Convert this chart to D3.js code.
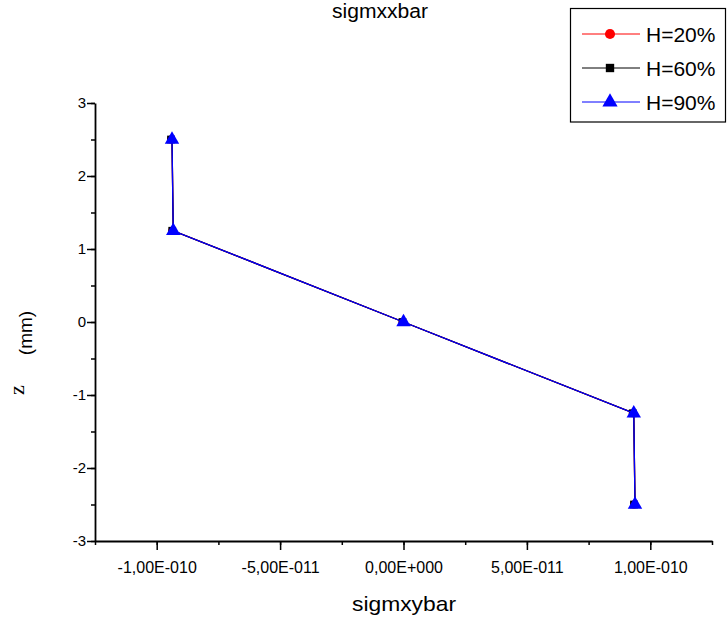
<!DOCTYPE html>
<html>
<head>
<meta charset="utf-8">
<script src="https://cdn.jsdelivr.net/npm/d3@7"></script>
<style>
  body { margin: 0; background: #fff; }
  svg { display: block; font-family: "Liberation Sans", Arial, sans-serif; }
</style>
</head>
<body>
<svg id="chart" width="727" height="623"></svg>
<script>
// ---- data ----
const seriesNames = ["H=20%", "H=60%", "H=90%"];
const seriesColors = ["#ff0000", "#000000", "#0000ff"];
const sigmxybarH20 = [-9.38e-11, -9.33e-11, 0, 9.33e-11, 9.38e-11];
const sigmxybarH60 = [-9.38e-11, -9.33e-11, 0, 9.33e-11, 9.38e-11];
const sigmxybarH90 = [-9.38e-11, -9.33e-11, 0, 9.33e-11, 9.38e-11];
const zValues = [2.5, 1.25, 0, -1.25, -2.5];
const xTickValues = [-1e-10, -5e-11, 0, 5e-11, 1e-10];
const xTickLabels = ["-1,00E-010", "-5,00E-011", "0,00E+000", "5,00E-011", "1,00E-010"];
const yTickValues = [-3, -2, -1, 0, 1, 2, 3];
const yTickLabels = ["-3", "-2", "-1", "0", "1", "2", "3"];

const svg = d3.select("#chart");
const mLeft = 95, mRight = 712, mTop = 103, mBottom = 541;

const x = d3.scaleLinear().domain([-1.25e-10, 1.25e-10]).range([mLeft, mRight]);
const y = d3.scaleLinear().domain([-3, 3]).range([mBottom, mTop]);

// axes
const xMinor = d3.range(-1.25e-10, 1.2500001e-10, 2.5e-11);
svg.append("g").attr("transform", `translate(0,${mBottom})`)
  .call(d3.axisBottom(x).tickValues(xMinor).tickSize(4).tickFormat(""))
  .call(g => g.select(".domain").remove())
  .call(g => g.selectAll("line").attr("stroke", "#000").attr("stroke-width", 1.5));
svg.append("g").attr("transform", `translate(0,${mBottom})`)
  .call(d3.axisBottom(x).tickValues(xTickValues).tickSize(9).tickSizeOuter(0)
    .tickFormat((d, i) => xTickLabels[i]))
  .call(g => g.select(".domain").attr("stroke", "#000").attr("stroke-width", 1.8))
  .call(g => g.selectAll("line").attr("stroke", "#000").attr("stroke-width", 1.5))
  .call(g => g.selectAll("text").attr("font-size", 16).attr("y", 21).attr("dy", "0.71em")
    .attr("font-family", "'Liberation Sans', Arial, sans-serif").attr("fill", "#000"));

const yMinor = d3.range(-3, 3.0001, 0.5);
svg.append("g").attr("transform", `translate(${mLeft},0)`)
  .call(d3.axisLeft(y).tickValues(yMinor).tickSize(4).tickFormat(""))
  .call(g => g.select(".domain").remove())
  .call(g => g.selectAll("line").attr("stroke", "#000").attr("stroke-width", 1.5));
svg.append("g").attr("transform", `translate(${mLeft},0)`)
  .call(d3.axisLeft(y).tickValues(yTickValues).tickSize(8).tickSizeOuter(0)
    .tickFormat((d, i) => yTickLabels[i]))
  .call(g => g.select(".domain").attr("stroke", "#000").attr("stroke-width", 1.8))
  .call(g => g.selectAll("line").attr("stroke", "#000").attr("stroke-width", 1.5))
  .call(g => g.selectAll("text").attr("font-size", 15).attr("x", -9)
    .attr("font-family", "'Liberation Sans', Arial, sans-serif").attr("fill", "#000"));

// series
const allX = [sigmxybarH20, sigmxybarH60, sigmxybarH90];
const line = d3.line().x(d => x(d[0])).y(d => y(d[1]));
allX.forEach((xs, si) => {
  const pts = xs.map((v, i) => [v, zValues[i]]);
  const g = svg.append("g");
  g.append("path").datum(pts).attr("d", line).attr("fill", "none")
    .attr("stroke", seriesColors[si]).attr("stroke-width", 1.3);
  const sym = [d3.symbolCircle, d3.symbolSquare, d3.symbolTriangle][si];
  const size = [50, 60, 90][si];
  g.selectAll("path.m").data(pts).join("path").attr("class", "m")
    .attr("transform", d => `translate(${x(d[0]) + (si === 2 ? 0 : -1)},${y(d[1])})`)
    .attr("d", d3.symbol(sym, size)).attr("fill", seriesColors[si]);
});

// title and axis labels
svg.append("text").attr("x", 380).attr("y", 18).attr("text-anchor", "middle")
  .attr("font-size", 20).attr("textLength", 96).attr("lengthAdjust", "spacingAndGlyphs")
  .text("sigmxxbar");
svg.append("text").attr("x", 404).attr("y", 611).attr("text-anchor", "middle")
  .attr("font-size", 21).attr("textLength", 104).attr("lengthAdjust", "spacingAndGlyphs")
  .text("sigmxybar");
svg.append("text").attr("transform", "translate(24,390) rotate(-90)")
  .attr("text-anchor", "middle")
  .attr("font-family", "'Liberation Serif', 'Times New Roman', serif").attr("font-size", 22).text("z");
svg.append("text").attr("transform", "translate(32,333) rotate(-90)")
  .attr("text-anchor", "middle").attr("font-size", 19).text("(mm)");

// legend
const lg = svg.append("g");
lg.append("rect").attr("x", 570.5).attr("y", 8.5).attr("width", 155).attr("height", 113.5)
  .attr("fill", "#fff").attr("stroke", "#000").attr("stroke-width", 1.2);
seriesNames.forEach((name, i) => {
  const cy = 34 + i * 34;
  lg.append("line").attr("x1", 582).attr("x2", 640).attr("y1", cy).attr("y2", cy)
    .attr("stroke", seriesColors[i]).attr("stroke-width", 1);
  const sym = [d3.symbolCircle, d3.symbolSquare, d3.symbolTriangle][i];
  const size = [80, 70, 100][i];
  lg.append("path").attr("transform", `translate(610,${cy})`)
    .attr("d", d3.symbol(sym, size)).attr("fill", seriesColors[i])
    .attr("stroke", "#fff").attr("stroke-width", 0);
  lg.append("text").attr("x", 646).attr("y", cy + 8).attr("font-size", 21).text(name);
});
</script>
</body>
</html>
